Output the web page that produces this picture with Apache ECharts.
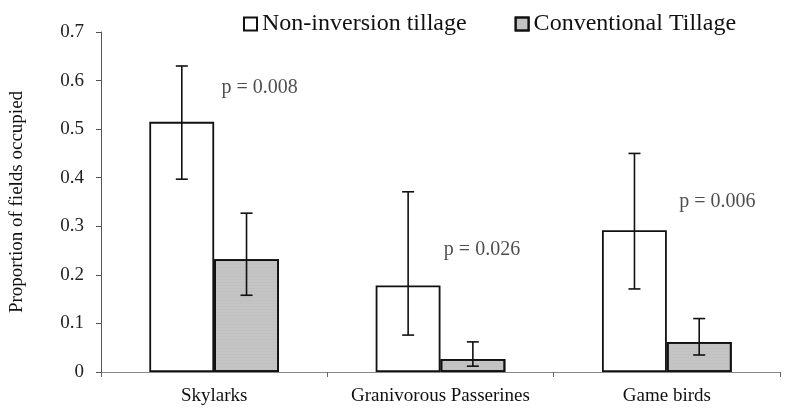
<!DOCTYPE html>
<html>
<head>
<meta charset="utf-8">
<script src="https://cdn.jsdelivr.net/npm/echarts@6/dist/echarts.min.js"></script>
<style>html,body{margin:0;padding:0;background:#fff;}#c{width:793px;height:410px;}</style>
</head>
<body>
<div id="c"></div>
<script>
var categories = ['Skylarks', 'Granivorous Passerines', 'Game birds'];
var seriesNames = ['Non-inversion tillage', 'Conventional Tillage'];
var nonInversion = [0.515, 0.178, 0.292];
var nonInversionLow = [0.397, 0.076, 0.171];
var nonInversionHigh = [0.630, 0.371, 0.450];
var conventional = [0.232, 0.027, 0.062];
var conventionalLow = [0.158, 0.012, 0.035];
var conventionalHigh = [0.327, 0.062, 0.110];
var pLabels = ['p = 0.008', 'p = 0.026', 'p = 0.006'];
var pValuesY = [0.585, 0.251, 0.35];
var yTicks = [0, 0.1, 0.2, 0.3, 0.4, 0.5, 0.6, 0.7];

var FONT = '"Liberation Serif", "Times New Roman", serif';
var chart = echarts.init(document.getElementById('c'), null, {renderer: 'canvas'});

function errorSeries(low, high, side) {
  var data = low.map(function (l, i) { return [i, l, high[i]]; });
  return {
    type: 'custom',
    silent: true,
    z: 10,
    data: data,
    renderItem: function (params, api) {
      var bw = api.size([1, 0])[0];
      var off = side * bw * 0.143;
      var lo = api.coord([api.value(0), api.value(1)]);
      var hi = api.coord([api.value(0), api.value(2)]);
      var x = lo[0] + off;
      var cap = 6;
      var st = {stroke: '#111', lineWidth: 1.6};
      return {
        type: 'group',
        children: [
          {type: 'line', shape: {x1: x, y1: lo[1], x2: x, y2: hi[1]}, style: st},
          {type: 'line', shape: {x1: x - cap, y1: lo[1], x2: x + cap, y2: lo[1]}, style: st},
          {type: 'line', shape: {x1: x - cap, y1: hi[1], x2: x + cap, y2: hi[1]}, style: st}
        ]
      };
    }
  };
}

var pOffsets = [[45.5, 0], [41.5, 0], [50.5, 0]];

var option = {
  animation: false,
  backgroundColor: '#fff',
  grid: {left: 100, right: 13, top: 32, bottom: 38, containLabel: false},
  legend: {
    data: seriesNames,
    left: 238,
    top: 7,
    itemWidth: 13,
    itemHeight: 13,
    itemGap: 48,
    icon: 'rect',
    textStyle: {fontFamily: FONT, fontSize: 24, color: '#111'}
  },
  xAxis: {
    type: 'category',
    data: categories,
    axisLine: {lineStyle: {color: '#888', width: 1}},
    axisTick: {show: true, length: 5, lineStyle: {color: '#666'}},
    axisLabel: {fontFamily: FONT, fontSize: 19, color: '#111', margin: 15, interval: 0},
    splitLine: {show: false}
  },
  yAxis: {
    type: 'value',
    min: 0,
    max: 0.7,
    interval: 0.1,
    name: 'Proportion of fields occupied',
    nameLocation: 'middle',
    nameGap: 74,
    nameRotate: 90,
    nameTextStyle: {fontFamily: FONT, fontSize: 19, color: '#111'},
    axisLine: {show: true, lineStyle: {color: '#555', width: 1}},
    axisTick: {show: true, length: 5, lineStyle: {color: '#555'}},
    axisLabel: {
      fontFamily: FONT, fontSize: 19, color: '#222', margin: 17,
      formatter: function (v) { var r = Math.round(v * 10) / 10; return yTicks.indexOf(r) >= 0 ? String(r) : ''; }
    },
    splitLine: {show: false}
  },
  series: [
    {
      name: seriesNames[0],
      type: 'bar',
      data: nonInversion,
      barGap: '0%',
      barCategoryGap: '42.7%',
      itemStyle: {color: '#ffffff', borderColor: '#111', borderWidth: 1.8}
    },
    {
      name: seriesNames[1],
      type: 'bar',
      data: conventional,
      itemStyle: {
        color: '#c4c4c4', borderColor: '#111', borderWidth: 1.8,
        decal: {symbol: 'rect', symbolSize: 0.5, dashArrayX: [1, 1], dashArrayY: [1, 2], color: 'rgba(120,120,120,0.35)', rotation: 0}
      }
    },
    errorSeries(nonInversionLow, nonInversionHigh, -1),
    errorSeries(conventionalLow, conventionalHigh, 1),
    {
      type: 'scatter',
      symbolSize: 0,
      silent: true,
      data: pValuesY.map(function (v, i) {
        return {value: [i, v], label: {show: true, formatter: pLabels[i], offset: pOffsets[i], position: 'inside', fontFamily: FONT, fontSize: 20, color: '#222'}};
      })
    }
  ]
};
chart.setOption(option);
</script>
</body>
</html>
